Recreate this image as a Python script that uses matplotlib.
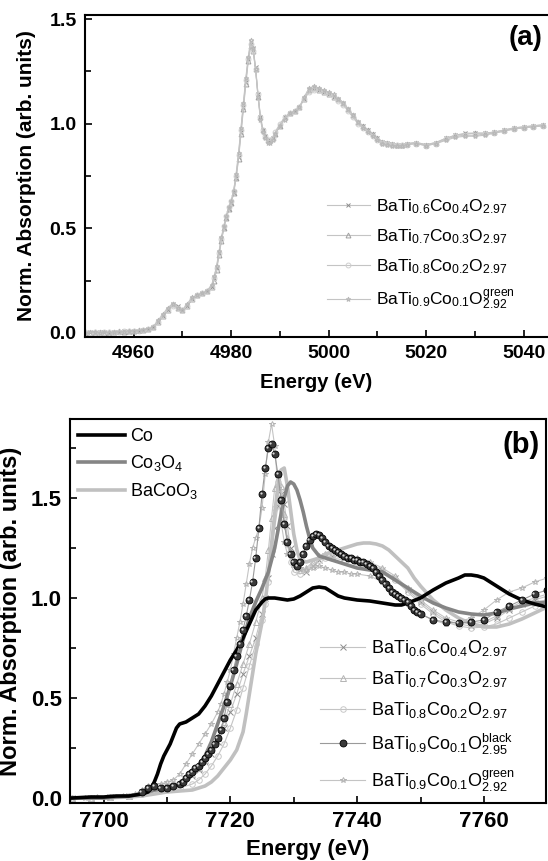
import matplotlib
matplotlib.use("Agg")
import matplotlib.pyplot as plt
from matplotlib.ticker import MultipleLocator, FormatStrFormatter
from matplotlib.transforms import offset_copy

plt.rcParams['font.family'] = ['Liberation Sans', 'DejaVu Sans']
plt.rcParams['mathtext.fontset'] = 'custom'
plt.rcParams['mathtext.rm'] = 'Liberation Sans'
plt.rcParams['mathtext.it'] = 'Liberation Sans:italic'
plt.rcParams['mathtext.bf'] = 'Liberation Sans:bold'

# ---------------- Panel (a): Ti K-edge ----------------
energy_ti = [4950, 4951, 4952, 4953, 4954, 4955, 4956, 4957, 4958, 4959, 4960, 4961, 4962,
             4963, 4964, 4965, 4966, 4967, 4968, 4969, 4970, 4971, 4972, 4973, 4974, 4975, 4976,
             4976.5, 4977, 4977.5, 4978, 4978.5, 4979, 4979.5, 4980, 4980.5, 4981, 4981.5, 4982,
             4982.5, 4983, 4983.5, 4984, 4984.5, 4985, 4985.5, 4986, 4986.5, 4987, 4987.5, 4988,
             4988.5, 4989,
             4990, 4991, 4992, 4993, 4994, 4995, 4996, 4997, 4998, 4999, 5000, 5001, 5002, 5003,
             5004, 5005, 5006, 5007, 5008, 5009, 5010, 5011, 5012, 5013, 5014, 5015, 5016,
             5018, 5020, 5022, 5024, 5026, 5028, 5030, 5032, 5034, 5036, 5038, 5040, 5042, 5044]

ti_co04 = [0.00, 0.005, 0.00, 0.005, 0.005, 0.00, 0.005, 0.005, 0.01, 0.005, 0.01, 0.01, 0.015,
           0.02, 0.03, 0.05, 0.08, 0.11, 0.14, 0.13, 0.11, 0.13, 0.16, 0.18, 0.19, 0.20, 0.22,
           0.26, 0.31, 0.38, 0.45, 0.50, 0.55, 0.59, 0.62, 0.67, 0.74, 0.84, 0.96,
           1.08, 1.20, 1.31, 1.39, 1.36, 1.27, 1.14, 1.03, 0.97, 0.94, 0.92, 0.92,
           0.93, 0.95,
           0.99, 1.03, 1.05, 1.06, 1.08, 1.12, 1.16, 1.17, 1.16, 1.15, 1.14, 1.13, 1.12, 1.10,
           1.07, 1.04, 1.01, 0.99, 0.97, 0.95, 0.93, 0.915, 0.91, 0.905, 0.90, 0.90, 0.905,
           0.91, 0.90, 0.91, 0.93, 0.945, 0.955, 0.955, 0.955, 0.96, 0.97, 0.98, 0.985, 0.99, 0.995]

ti_co03 = [0.00, 0.00, 0.005, 0.005, 0.00, 0.005, 0.005, 0.01, 0.005, 0.01, 0.01, 0.015, 0.015,
           0.02, 0.03, 0.05, 0.08, 0.11, 0.14, 0.12, 0.11, 0.13, 0.16, 0.18, 0.19, 0.20, 0.22,
           0.25, 0.30, 0.37, 0.44, 0.50, 0.55, 0.59, 0.62, 0.67, 0.74, 0.83, 0.95,
           1.07, 1.19, 1.30, 1.37, 1.35, 1.26, 1.13, 1.03, 0.97, 0.94, 0.92, 0.92,
           0.93, 0.95,
           0.99, 1.03, 1.05, 1.06, 1.08, 1.12, 1.16, 1.17, 1.16, 1.15, 1.14, 1.13, 1.12, 1.10,
           1.07, 1.04, 1.01, 0.99, 0.97, 0.95, 0.93, 0.915, 0.91, 0.905, 0.90, 0.90, 0.905,
           0.91, 0.90, 0.91, 0.93, 0.945, 0.95, 0.955, 0.955, 0.96, 0.97, 0.98, 0.985, 0.99, 0.995]

ti_co02 = [0.005, 0.00, 0.005, 0.00, 0.005, 0.005, 0.00, 0.005, 0.01, 0.01, 0.01, 0.01, 0.015,
           0.02, 0.03, 0.05, 0.08, 0.11, 0.13, 0.12, 0.11, 0.13, 0.16, 0.18, 0.19, 0.20, 0.22,
           0.26, 0.31, 0.38, 0.45, 0.51, 0.56, 0.60, 0.63, 0.68, 0.75, 0.85, 0.97,
           1.09, 1.21, 1.31, 1.38, 1.35, 1.26, 1.14, 1.03, 0.97, 0.94, 0.92, 0.92,
           0.93, 0.96,
           1.00, 1.03, 1.05, 1.06, 1.08, 1.12, 1.15, 1.16, 1.16, 1.15, 1.14, 1.13, 1.11, 1.09,
           1.06, 1.03, 1.00, 0.98, 0.96, 0.94, 0.92, 0.91, 0.905, 0.90, 0.90, 0.90, 0.90,
           0.905, 0.895, 0.905, 0.925, 0.94, 0.945, 0.945, 0.95, 0.955, 0.965, 0.975, 0.98, 0.985, 0.99]

ti_co01g = [0.00, 0.005, 0.005, 0.00, 0.005, 0.00, 0.005, 0.005, 0.005, 0.01, 0.01, 0.01, 0.015,
            0.02, 0.03, 0.06, 0.09, 0.12, 0.14, 0.12, 0.11, 0.14, 0.17, 0.18, 0.19, 0.20, 0.23,
            0.27, 0.32, 0.39, 0.46, 0.51, 0.56, 0.60, 0.63, 0.68, 0.76, 0.86, 0.98,
            1.10, 1.22, 1.32, 1.40, 1.36, 1.26, 1.13, 1.02, 0.96, 0.93, 0.91, 0.91,
            0.92, 0.95,
            0.99, 1.02, 1.05, 1.06, 1.08, 1.13, 1.17, 1.18, 1.17, 1.16, 1.15, 1.14, 1.12, 1.10,
            1.07, 1.04, 1.01, 0.98, 0.96, 0.94, 0.92, 0.905, 0.90, 0.895, 0.895, 0.895, 0.90,
            0.905, 0.895, 0.905, 0.92, 0.935, 0.94, 0.94, 0.945, 0.955, 0.965, 0.975, 0.98, 0.985, 0.99]

# ---------------- Panel (b): Co K-edge ----------------
co_E = [7695, 7698, 7700, 7702, 7704, 7705, 7706, 7707, 7707.5, 7708, 7708.5, 7709, 7709.5,
        7710, 7710.5, 7711, 7711.5, 7712, 7712.5, 7713, 7714, 7715, 7716, 7717, 7718, 7719,
        7720, 7721, 7722, 7723, 7724, 7725, 7725.5, 7726, 7727, 7728, 7729, 7730, 7731, 7732,
        7733, 7734, 7735, 7736, 7737, 7738, 7740, 7742, 7744, 7746, 7747, 7748, 7750, 7752,
        7754, 7756, 7757, 7758, 7759, 7760, 7762, 7764, 7766, 7768, 7770]
co_V = [0.0, 0.005, 0.005, 0.01, 0.01, 0.015, 0.02, 0.03, 0.05, 0.08, 0.12, 0.17, 0.21,
        0.24, 0.27, 0.31, 0.35, 0.37, 0.375, 0.38, 0.40, 0.42, 0.46, 0.51, 0.57, 0.63,
        0.69, 0.74, 0.80, 0.87, 0.94, 0.98, 0.995, 1.0, 1.0, 0.995, 0.99, 0.995, 1.01, 1.03,
        1.05, 1.055, 1.05, 1.03, 1.01, 1.0, 0.99, 0.985, 0.975, 0.965, 0.965, 0.975, 1.0, 1.04,
        1.075, 1.10, 1.115, 1.115, 1.11, 1.10, 1.06, 1.02, 0.99, 0.97, 0.955]

co3o4_E = [7695, 7700, 7704, 7706, 7708, 7710, 7712, 7713, 7714, 7715, 7716, 7717, 7718, 7719,
           7720, 7721, 7722, 7723, 7724, 7725, 7726, 7727, 7728, 7728.5, 7729, 7729.5, 7730,
           7730.5, 7731, 7731.5, 7732, 7732.5, 7733, 7734, 7735, 7736, 7738, 7740, 7742, 7744,
           7746, 7748, 7750, 7752, 7754, 7756, 7758, 7760, 7762, 7764, 7766, 7768, 7770]
co3o4_V = [0.0, 0.0, 0.01, 0.02, 0.04, 0.05, 0.07, 0.09, 0.12, 0.16, 0.21, 0.28, 0.37, 0.46,
           0.56, 0.67, 0.79, 0.90, 0.98, 1.05, 1.13, 1.25, 1.42, 1.50, 1.56, 1.58, 1.57,
           1.54, 1.49, 1.43, 1.36, 1.30, 1.25, 1.21, 1.20, 1.19, 1.17, 1.15, 1.14, 1.13,
           1.09, 1.05, 1.01, 0.975, 0.95, 0.93, 0.92, 0.915, 0.925, 0.945, 0.96, 0.975, 0.98]

bacoo3_E = [7695, 7700, 7704, 7706, 7708, 7710, 7712, 7714, 7716, 7717, 7718, 7719, 7720, 7721,
            7722, 7722.5, 7723, 7723.5, 7724, 7724.5, 7725, 7725.5, 7726, 7726.5, 7727, 7727.5,
            7728, 7728.5, 7729, 7729.5, 7730, 7730.5, 7731, 7732, 7733, 7734, 7735, 7736, 7737,
            7738, 7739, 7740, 7741, 7742, 7743, 7744, 7745, 7746, 7747, 7748, 7749, 7750, 7752,
            7754, 7756, 7758, 7760, 7762, 7764, 7766, 7768, 7770]
bacoo3_V = [0.0, 0.0, 0.005, 0.01, 0.02, 0.03, 0.035, 0.04, 0.06, 0.08, 0.11, 0.15, 0.19, 0.24,
            0.33, 0.42, 0.52, 0.62, 0.72, 0.80, 0.88, 0.98, 1.12, 1.27, 1.42, 1.56,
            1.64, 1.65, 1.56, 1.44, 1.32, 1.24, 1.19, 1.18, 1.19, 1.20, 1.22, 1.23, 1.24,
            1.25, 1.26, 1.27, 1.275, 1.275, 1.27, 1.26, 1.24, 1.21, 1.18, 1.15, 1.10, 1.06, 0.99,
            0.94, 0.90, 0.87, 0.855, 0.855, 0.87, 0.895, 0.925, 0.955]

sample_E = [7695, 7698, 7701, 7704, 7706, 7708, 7710, 7712, 7714, 7715, 7716, 7717, 7718, 7719,
            7720, 7721, 7722, 7723, 7724, 7725, 7725.5, 7726, 7726.5, 7727, 7727.5, 7728, 7728.5,
            7729, 7729.5, 7730, 7731, 7732, 7733, 7734, 7735, 7736, 7738, 7740, 7742, 7744, 7746,
            7748, 7750, 7752, 7754, 7756, 7758, 7760, 7762, 7764, 7766, 7768, 7770]
co04_V = [0.0, 0.0, 0.005, 0.01, 0.03, 0.05, 0.06, 0.07, 0.11, 0.14, 0.18, 0.22, 0.28, 0.35,
          0.43, 0.52, 0.62, 0.71, 0.80, 0.92, 1.00, 1.10, 1.22, 1.35, 1.46, 1.52, 1.47,
          1.36, 1.25, 1.18, 1.14, 1.13, 1.16, 1.19, 1.21, 1.21, 1.20, 1.19, 1.17, 1.14, 1.10,
          1.04, 0.98, 0.93, 0.89, 0.87, 0.86, 0.87, 0.90, 0.94, 0.97, 0.99, 1.01]
co03_V = [0.0, 0.0, 0.005, 0.01, 0.03, 0.05, 0.06, 0.08, 0.12, 0.15, 0.19, 0.24, 0.30, 0.38,
          0.47, 0.57, 0.67, 0.77, 0.88, 1.00, 1.10, 1.24, 1.40, 1.55, 1.62, 1.56, 1.42,
          1.30, 1.22, 1.17, 1.14, 1.15, 1.18, 1.21, 1.22, 1.22, 1.21, 1.20, 1.18, 1.15, 1.11,
          1.05, 0.99, 0.94, 0.90, 0.88, 0.87, 0.88, 0.91, 0.95, 0.98, 1.00, 1.02]
co02_V = [0.0, 0.0, 0.005, 0.01, 0.02, 0.04, 0.05, 0.05, 0.07, 0.09, 0.12, 0.16, 0.21, 0.27,
          0.35, 0.44, 0.55, 0.66, 0.77, 0.89, 0.97, 1.08, 1.25, 1.45, 1.58, 1.55, 1.40,
          1.27, 1.18, 1.13, 1.12, 1.14, 1.17, 1.19, 1.20, 1.20, 1.19, 1.18, 1.16, 1.13, 1.09,
          1.03, 0.97, 0.92, 0.88, 0.86, 0.85, 0.855, 0.87, 0.90, 0.93, 0.96, 0.99]

green_E = [7695, 7697, 7699, 7701, 7703, 7705, 7706, 7707, 7708, 7709, 7710, 7711, 7712, 7713,
           7714, 7715, 7716, 7717, 7718, 7718.5, 7719, 7719.5, 7720, 7720.5, 7721, 7721.5, 7722,
           7722.5, 7723, 7723.5, 7724, 7724.5, 7725, 7725.5, 7726, 7726.5, 7727, 7727.5, 7728,
           7728.5, 7729, 7730, 7731, 7732, 7733, 7734, 7735, 7736, 7737, 7738, 7739, 7740, 7742,
           7744, 7746, 7748, 7750, 7752, 7754, 7756, 7758, 7760, 7762, 7764, 7766, 7768, 7770]
green_V = [0.0, 0.0, 0.005, 0.005, 0.01, 0.02, 0.04, 0.06, 0.07, 0.07, 0.08, 0.09, 0.12, 0.17,
           0.22, 0.27, 0.32, 0.37, 0.43, 0.47, 0.52, 0.58, 0.64, 0.72, 0.80, 0.88, 0.97,
           1.07, 1.17, 1.25, 1.30, 1.35, 1.45, 1.62, 1.78, 1.87, 1.76, 1.55, 1.38,
           1.28, 1.22, 1.17, 1.15, 1.14, 1.15, 1.16, 1.15, 1.14, 1.13, 1.13, 1.12, 1.12, 1.11,
           1.08, 1.03, 0.97, 0.92, 0.89, 0.87, 0.88, 0.90, 0.94, 0.99, 1.03, 1.05, 1.08, 1.10]

black_E = [7706, 7707, 7708, 7709, 7710, 7711, 7712, 7712.5, 7713, 7713.5, 7714, 7714.5, 7715,
           7715.5, 7716, 7716.5, 7717, 7717.5, 7718, 7718.5, 7719, 7719.5, 7720, 7720.5, 7721,
           7721.5, 7722, 7722.5, 7723, 7723.5, 7724, 7724.5, 7725, 7725.5, 7726, 7726.5, 7727,
           7727.5, 7728, 7728.5, 7729, 7729.5, 7730, 7730.5, 7731, 7731.5, 7732, 7732.5, 7733,
           7733.5, 7734, 7734.5, 7735, 7735.5, 7736, 7736.5, 7737, 7737.5, 7738, 7738.5, 7739,
           7739.5, 7740, 7740.5, 7741, 7741.5, 7742, 7742.5, 7743, 7743.5, 7744, 7744.5, 7745,
           7745.5, 7746, 7746.5, 7747, 7747.5, 7748, 7748.5, 7749, 7749.5, 7750, 7752, 7754,
           7756, 7758, 7760, 7762, 7764, 7766, 7768, 7770]
black_V = [0.03, 0.05, 0.06, 0.05, 0.05, 0.06, 0.07, 0.08, 0.10, 0.12, 0.13, 0.15, 0.16,
           0.18, 0.20, 0.22, 0.24, 0.27, 0.30, 0.34, 0.40, 0.48, 0.56, 0.64, 0.71,
           0.77, 0.84, 0.91, 0.99, 1.08, 1.20, 1.35, 1.52, 1.65, 1.75, 1.77, 1.72,
           1.62, 1.49, 1.37, 1.28, 1.22, 1.18, 1.16, 1.18, 1.22, 1.26, 1.29, 1.31,
           1.32, 1.315, 1.30, 1.28, 1.26, 1.25, 1.24, 1.23, 1.22, 1.21, 1.20, 1.20,
           1.19, 1.19, 1.18, 1.18, 1.17, 1.16, 1.15, 1.13, 1.11, 1.09, 1.07, 1.05,
           1.03, 1.02, 1.01, 1.00, 0.99, 0.98, 0.96, 0.94, 0.93, 0.92, 0.89, 0.88,
           0.875, 0.88, 0.89, 0.93, 0.96, 0.99, 1.02, 1.04]

labels_a = [r'BaTi$_{0.6}$Co$_{0.4}$O$_{2.97}$', r'BaTi$_{0.7}$Co$_{0.3}$O$_{2.97}$',
            r'BaTi$_{0.8}$Co$_{0.2}$O$_{2.97}$', r'BaTi$_{0.9}$Co$_{0.1}$O$_{2.92}^{\mathrm{green}}$']
labels_b_ref = ['Co', r'Co$_{3}$O$_{4}$', r'BaCoO$_{3}$']
labels_b_smp = [r'BaTi$_{0.6}$Co$_{0.4}$O$_{2.97}$', r'BaTi$_{0.7}$Co$_{0.3}$O$_{2.97}$',
                r'BaTi$_{0.8}$Co$_{0.2}$O$_{2.97}$', r'BaTi$_{0.9}$Co$_{0.1}$O$_{2.95}^{\mathrm{black}}$',
                r'BaTi$_{0.9}$Co$_{0.1}$O$_{2.92}^{\mathrm{green}}$']

W, H = 548, 861
fig = plt.figure(figsize=(W / 100, H / 100), dpi=100)

def px_axes(l, t, r, b):
    return fig.add_axes([l / W, 1 - b / H, (r - l) / W, (b - t) / H])

axa = px_axes(85, 15, 548, 337)
axb = px_axes(70, 419, 546, 803)

line_c = '#c4c4c4'
styles = [dict(marker='x', mec='#8c8c8c', mfc='none'),
          dict(marker='^', mec='#a0a0a0', mfc='none'),
          dict(marker='o', mec='#cfcfcf', mfc='none'),
          dict(marker='*', mec='#b8b8b8', mfc='none')]

# panel a
ti_series = [ti_co04, ti_co03, ti_co02, ti_co01g]
handles_a = []
for vals, st, lab in zip(ti_series, styles, labels_a):
    h, = axa.plot(energy_ti, vals, color=line_c, lw=0.8, ms=3.5, mew=0.7, label=lab, **st)
    handles_a.append(h)

axa.set_xlim(4950, 5045)
axa.set_ylim(-0.02, 1.52)
axa.xaxis.set_major_locator(MultipleLocator(20))
axa.xaxis.set_minor_locator(MultipleLocator(10))
axa.yaxis.set_major_locator(MultipleLocator(0.5))
axa.yaxis.set_minor_locator(MultipleLocator(0.25))
axa.yaxis.set_major_formatter(FormatStrFormatter('%.1f'))
axa.spines['right'].set_visible(False)
axa.set_xlabel('Energy (eV)', fontsize=14.5, fontweight='bold', labelpad=8)
axa.set_ylabel('Norm. Absorption (arb. units)', fontsize=15, fontweight='bold', labelpad=10)
axa.tick_params(axis='both', which='major', direction='in', length=5, width=1.2, labelsize=14, pad=6)
axa.tick_params(axis='both', which='minor', direction='in', length=4, width=1.2)
for lab in axa.get_xticklabels() + axa.get_yticklabels():
    lab.set_fontweight('bold')
for s in axa.spines.values():
    s.set_linewidth(1.5)

axa.legend(handles=handles_a, loc='upper left', bbox_to_anchor=(327 / W, 1 - 197 / H),
           bbox_transform=fig.transFigure, frameon=False, fontsize=12.5, numpoints=1,
           handlelength=2.45, handletextpad=0.35, labelspacing=0.66, borderpad=0, borderaxespad=0)
fig.text(526 / W, 1 - 38 / H, '(a)', ha='center', va='center', fontsize=20, fontweight='bold')

# panel b
smp_sets = [(sample_E, co04_V), (sample_E, co03_V), (sample_E, co02_V), (green_E, green_V)]
smp_styles = [dict(marker='x', mec='#8c8c8c', mfc='none'),
              dict(marker='^', mec='#b4b4b4', mfc='none'),
              dict(marker='o', mec='#c8c8c8', mfc='none'),
              dict(marker='*', mec='#b4b4b4', mfc='none')]
smp_handles = []
for (e, v), st in zip(smp_sets, smp_styles):
    h, = axb.plot(e, v, color=line_c, lw=0.8, ms=4, mew=0.7, **st)
    smp_handles.append(h)

hb, = axb.plot(bacoo3_E, bacoo3_V, color='#c0c0c0', lw=2.6, solid_joinstyle='round')
hc3, = axb.plot(co3o4_E, co3o4_V, color='#858585', lw=2.6, solid_joinstyle='round')
hco, = axb.plot(co_E, co_V, color='#000000', lw=2.6, solid_joinstyle='round')

hs, = axb.plot(black_E, black_V, color='#9a9a9a', lw=0.8, marker='o', ms=5, mfc='#3a3a3a',
               mec='#000000', mew=0.6)
hl_tr = offset_copy(axb.transData, fig=fig, x=-0.9, y=0.9, units='points')
axb.plot(black_E, black_V, ls='none', marker='o', ms=1.6, mfc='#d8d8d8', mec='none', transform=hl_tr)

axb.set_xlim(7694.7, 7769.8)
axb.set_ylim(-0.025, 1.895)
axb.xaxis.set_major_locator(MultipleLocator(20))
axb.xaxis.set_minor_locator(MultipleLocator(10))
axb.yaxis.set_major_locator(MultipleLocator(0.5))
axb.yaxis.set_minor_locator(MultipleLocator(0.25))
axb.yaxis.set_major_formatter(FormatStrFormatter('%.1f'))
axb.set_xlabel('Energy (eV)', fontsize=16, fontweight='bold', labelpad=5)
axb.set_ylabel('Norm. Absorption (arb. units)', fontsize=17, fontweight='bold', labelpad=6)
axb.tick_params(axis='both', which='major', direction='in', length=5, width=1.2, labelsize=16, pad=6)
axb.tick_params(axis='both', which='minor', direction='in', length=4, width=1.2)
for lab in axb.get_xticklabels() + axb.get_yticklabels():
    lab.set_fontweight('bold')
for s in axb.spines.values():
    s.set_linewidth(1.5)

leg1 = axb.legend(handles=[hco, hc3, hb], labels=labels_b_ref, loc='upper left',
                  bbox_to_anchor=(78 / W, 1 - 428 / H), bbox_transform=fig.transFigure,
                  frameon=False, fontsize=13, handlelength=2.6, handletextpad=0.3,
                  labelspacing=0.45, borderpad=0, borderaxespad=0)
axb.add_artist(leg1)
axb.legend(handles=smp_handles[:3] + [hs, smp_handles[3]], labels=labels_b_smp, loc='upper left',
           bbox_to_anchor=(320 / W, 1 - 638 / H), bbox_transform=fig.transFigure,
           frameon=False, fontsize=13, numpoints=1, handlelength=2.5, handletextpad=0.3,
           labelspacing=0.62, borderpad=0, borderaxespad=0)
fig.text(521 / W, 1 - 445 / H, '(b)', ha='center', va='center', fontsize=21, fontweight='bold')

fig.savefig('out.png', dpi=100)
